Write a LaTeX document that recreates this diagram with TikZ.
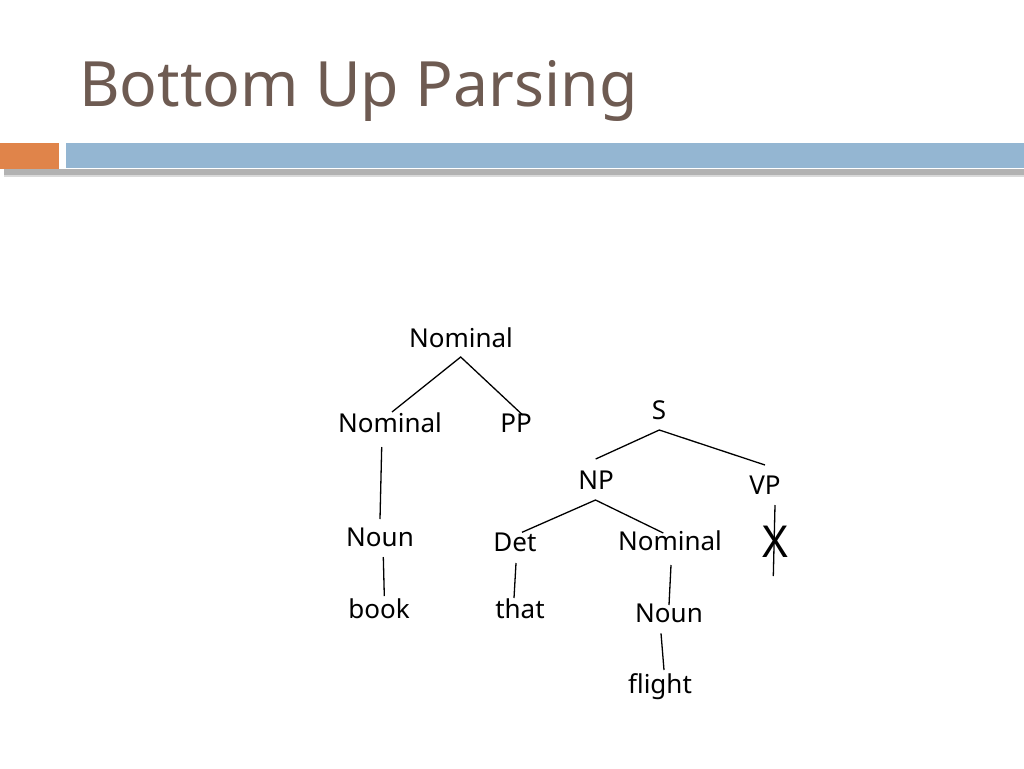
\documentclass[tikz,border=0pt]{standalone}
\usepackage{fontspec}
\setmainfont{Noto Sans}
\definecolor{titlec}{HTML}{6E5B52}
\definecolor{orangec}{HTML}{E0844A}
\definecolor{bluec}{HTML}{94B6D2}
\begin{document}
\begin{tikzpicture}[x=1pt,y=-1pt,
  lbl/.style={anchor=base,inner sep=0pt,font=\fontsize{26}{30}\selectfont},
  edge/.style={line width=1.3pt,black}]
\useasboundingbox (0,0) rectangle (1024,768);
% header
\fill[gray!60] (4,169) rectangle (1024,175);
\fill[gray!30] (4,175) rectangle (1024,177);
\fill[orangec] (0,143) rectangle (59,169);
\fill[bluec] (66,143) rectangle (1024,168);
\node[anchor=base west,inner sep=0pt,text=titlec,font=\fontsize{62.5}{70}\selectfont] (title) at (79,106) {Bottom Up Parsing};
% nodes
\node[lbl] (nomA) at (461,347) {Nominal};
\node[lbl] (nomB) at (390,432) {Nominal};
\node[lbl] (pp) at (516,432) {PP};
\node[lbl] (nounA) at (380,546) {Noun};
\node[lbl] (book) at (379,618) {book};
\node[lbl] (s) at (659,419) {S};
\node[lbl] (np) at (596,489) {NP};
\node[lbl] (vp) at (765,494) {VP};
\node[lbl] (det) at (515,551) {Det};
\node[lbl] (that) at (520,618) {that};
\node[lbl] (nomC) at (670,550) {Nominal};
\node[lbl] (nounC) at (669,622) {Noun};
\node[lbl] (flight) at (660,693) {flight};
\node[anchor=base,inner sep=0pt,font=\fontsize{44}{50}\selectfont] (x) at (775,557) {X};
% connector endpoints
\coordinate (nomA-b) at (460.7,357);
\coordinate (nomB-t) at (392,412);
\coordinate (pp-t) at (522.7,415);
\coordinate (nomB-b) at (381.7,447);
\coordinate (nounA-t) at (380,519);
\coordinate (nounA-b) at (383.3,557);
\coordinate (book-t) at (384.3,596);
\coordinate (s-b) at (659.3,430);
\coordinate (np-t) at (595.7,459);
\coordinate (vp-t) at (765,465);
\coordinate (np-b) at (595.5,500);
\coordinate (det-t) at (522,532.3);
\coordinate (nomC-t) at (663.3,533);
\coordinate (det-b) at (516,563);
\coordinate (that-t) at (514,598);
\coordinate (nomC-b) at (671,565);
\coordinate (nounC-t) at (669,605);
\coordinate (nounC-b) at (661,633.3);
\coordinate (flight-t) at (664,670);
\coordinate (vp-b) at (775,505);
\coordinate (x-b) at (773.3,576);
% connectors
\draw[edge] (nomB-t) -- (nomA-b) -- (pp-t);
\draw[edge] (nomB-b) -- (nounA-t);
\draw[edge] (nounA-b) -- (book-t);
\draw[edge] (np-t) -- (s-b) -- (vp-t);
\draw[edge] (det-t) -- (np-b) -- (nomC-t);
\draw[edge] (det-b) -- (that-t);
\draw[edge] (nomC-b) -- (nounC-t);
\draw[edge] (nounC-b) -- (flight-t);
\draw[edge] (vp-b) -- (x-b);
\end{tikzpicture}
\end{document}
